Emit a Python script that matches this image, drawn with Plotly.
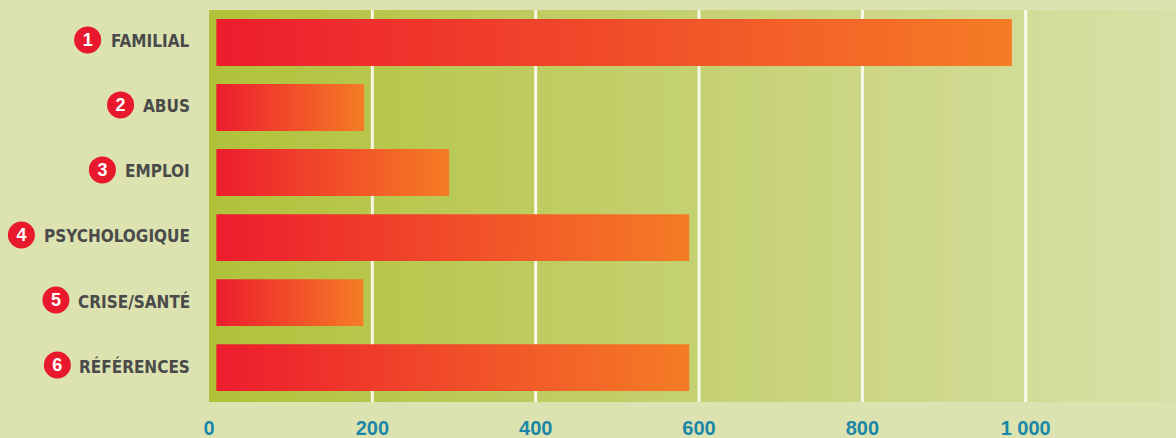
import plotly.graph_objects as go

# Data
categories = ["FAMILIAL", "ABUS", "EMPLOI", "PSYCHOLOGIQUE", "CRISE/SANTÉ", "RÉFÉRENCES"]
numbers = ["1", "2", "3", "4", "5", "6"]
values = [983, 190, 294, 588, 189, 588]
tick_values = [0, 200, 400, 600, 800, 1000]
tick_labels = ["0", "200", "400", "600", "800", "1 000"]

# Style
W, H = 1176, 438
PLOT_LEFT = 209            # px where the value axis starts
LABEL_RIGHT = 190.5        # px right edge of category labels
PAPER = "#dce3b0"
BG_SCALE = [[0, "#b0c23a"], [1, "#d9e0a8"]]
BAR_SCALE = [[0, "#ed1c2e"], [1, "#f57c25"]]
BAR_BASE = 9               # bars start a little right of the axis
BAR_HALF = 0.36
X_MAX = 1184
Y_RANGE = [5.53, -0.5]
CIRCLE_RED = "#e8192c"
LABEL_COLOR = "#4a4a4a"
LABEL_FONT = "DejaVu Sans Condensed, DejaVu Sans, sans-serif"
LABEL_SIZE = 17
BADGE_R = 13.5
BADGE_GAP = 10

# Approximate advance widths (1/1000 em) of DejaVu Sans Bold; condensed ~0.89
_W = {"A": 774, "B": 762, "C": 734, "D": 830, "E": 683, "É": 683, "F": 683,
      "G": 821, "H": 837, "I": 372, "L": 637, "M": 995, "N": 837, "O": 850,
      "P": 733, "Q": 850, "R": 770, "S": 720, "T": 682, "U": 812, "Y": 724,
      "/": 365, " ": 348}


def text_width(s, size):
    return sum(_W.get(c, 750) for c in s) * 0.89 * size / 1000.0


fig = go.Figure()

# Plot-area background with horizontal gradient
fig.add_trace(go.Scatter(
    x=[0, X_MAX, X_MAX, 0, 0],
    y=[Y_RANGE[1], Y_RANGE[1], Y_RANGE[0], Y_RANGE[0], Y_RANGE[1]],
    fill="toself", mode="lines", line=dict(width=0),
    fillgradient=dict(type="horizontal", colorscale=BG_SCALE),
    hoverinfo="skip", showlegend=False,
))

# Vertical grid lines (above background, below bars)
for tv in tick_values[1:]:
    fig.add_trace(go.Scatter(
        x=[tv, tv], y=[Y_RANGE[0], Y_RANGE[1]], mode="lines",
        line=dict(color="rgba(255,255,248,0.88)", width=3),
        hoverinfo="skip", showlegend=False,
    ))

# Bars with a red-to-orange gradient each
for i, (cat, v) in enumerate(zip(categories, values)):
    fig.add_trace(go.Scatter(
        x=[BAR_BASE, v, v, BAR_BASE, BAR_BASE],
        y=[i - BAR_HALF, i - BAR_HALF, i + BAR_HALF, i + BAR_HALF, i - BAR_HALF],
        fill="toself", mode="lines", line=dict(width=0),
        fillgradient=dict(type="horizontal", colorscale=BAR_SCALE),
        name=cat, hovertemplate=f"{cat}: {v}<extra></extra>", showlegend=False,
    ))

# Numbered red badges left of each category label
rows = list(range(len(categories)))
badge_x = [LABEL_RIGHT - text_width(c, LABEL_SIZE) - BADGE_GAP - BADGE_R for c in categories]
fig.add_trace(go.Scatter(
    x=badge_x, y=[r - 0.04 for r in rows], xaxis="x2", yaxis="y",
    mode="markers", marker=dict(size=2 * BADGE_R, color=CIRCLE_RED, line=dict(width=0)),
    hoverinfo="skip", showlegend=False, cliponaxis=False,
))
fig.add_trace(go.Scatter(
    x=badge_x, y=[r - 0.015 for r in rows], xaxis="x2", yaxis="y",
    mode="text", text=numbers, textposition="middle center",
    textfont=dict(family="Liberation Sans, Arial, sans-serif", size=18,
                  color="white", weight="bold"),
    hoverinfo="skip", showlegend=False, cliponaxis=False,
))

# Category labels
for i, cat in enumerate(categories):
    fig.add_annotation(
        x=LABEL_RIGHT, y=i - 0.02, xref="x2", yref="y", text=cat,
        xanchor="right", yanchor="middle", showarrow=False, borderpad=0,
        font=dict(family=LABEL_FONT, size=LABEL_SIZE, color=LABEL_COLOR, weight="bold"),
    )

fig.update_layout(
    width=W, height=H,
    margin=dict(l=0, r=0, t=10, b=36, autoexpand=False),
    paper_bgcolor=PAPER, plot_bgcolor=PAPER,
    showlegend=False,
    xaxis=dict(
        domain=[PLOT_LEFT / W, 1], range=[0, X_MAX],
        tickvals=tick_values, ticktext=tick_labels,
        showgrid=False, zeroline=False, showline=False, ticks="",
        ticklabelstandoff=12, automargin=False,
        tickfont=dict(family="Liberation Sans, Arial, sans-serif", size=20,
                      color="#1b87a8", weight="bold"),
        fixedrange=True,
    ),
    xaxis2=dict(
        domain=[0, PLOT_LEFT / W], range=[0, PLOT_LEFT], anchor="y",
        visible=False, fixedrange=True, automargin=False,
    ),
    yaxis=dict(
        range=Y_RANGE, showgrid=False, zeroline=False, showline=False,
        showticklabels=False, ticks="", fixedrange=True, automargin=False,
    ),
)

fig.write_html("out.html")
